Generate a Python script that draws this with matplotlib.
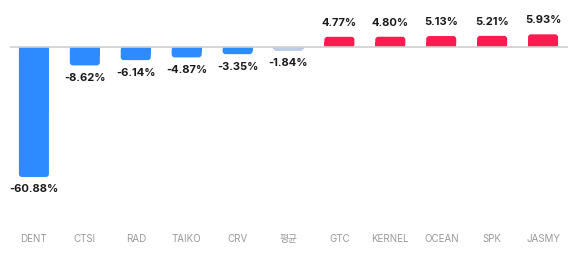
import matplotlib
matplotlib.use('Agg')
import matplotlib.pyplot as plt
from matplotlib.patches import FancyBboxPatch, Rectangle

plt.rcParams['font.family'] = ['Inter', 'Noto Sans CJK KR', 'DejaVu Sans']

names = ['DENT', 'CTSI', 'RAD', 'TAIKO', 'CRV', '평균', 'GTC', 'KERNEL', 'OCEAN', 'SPK', 'JASMY']
changes = [-60.88, -8.62, -6.14, -4.87, -3.35, -1.84, 4.77, 4.80, 5.13, 5.21, 5.93]
avg_name = '평균'

W, H = 575, 257
fig = plt.figure(figsize=(W / 100, H / 100), dpi=100)
# axes placed in pixels: x 10..568, y 10..228 from top
ax = fig.add_axes([10 / W, (H - 228) / H, 558 / W, 218 / H])
ppu_y = 2.135  # pixels per percent
ax.set_xlim(-0.47, 10.49)
ax.set_ylim(-(228 - 47) / ppu_y, (47 - 10) / ppu_y)

bw = 0.59
px_x = 558 / (10.49 + 0.47)
r = 3 / px_x
aspect = (3 / ppu_y) / r

for i, (n, v) in enumerate(zip(names, changes)):
    if n == avg_name:
        c = '#bccde3'
    elif v < 0:
        c = '#2e8bff'
    else:
        c = '#ff1a4f'
    y0 = min(0, v)
    h = abs(v)
    ax.add_patch(FancyBboxPatch((i - bw / 2, y0), bw, h,
                                boxstyle='round,pad=0,rounding_size=%f' % r,
                                mutation_aspect=aspect, fc=c, ec='none', zorder=2))
    # square off the side touching the baseline
    ax.add_patch(Rectangle((i - bw / 2, min(0, v / 2)), bw, h / 2,
                           fc=c, ec='none', zorder=2))
    off = -9 if v < 0 else 10
    ax.annotate('%.2f%%' % v, (i, v), xytext=(0, off), textcoords='offset points',
                ha='center', va='center', fontsize=8, fontweight='bold',
                color='#1a1a1a', zorder=4)

ax.axhline(0, color='#d0d0d0', lw=1.2, zorder=3)

ax.set_xticks(range(len(names)))
ax.set_xticklabels(names, fontsize=7, color='#999999')
ax.tick_params(axis='x', length=0, pad=4)
ax.set_yticks([])
for s in ax.spines.values():
    s.set_visible(False)

fig.savefig('out.png', dpi=100)
